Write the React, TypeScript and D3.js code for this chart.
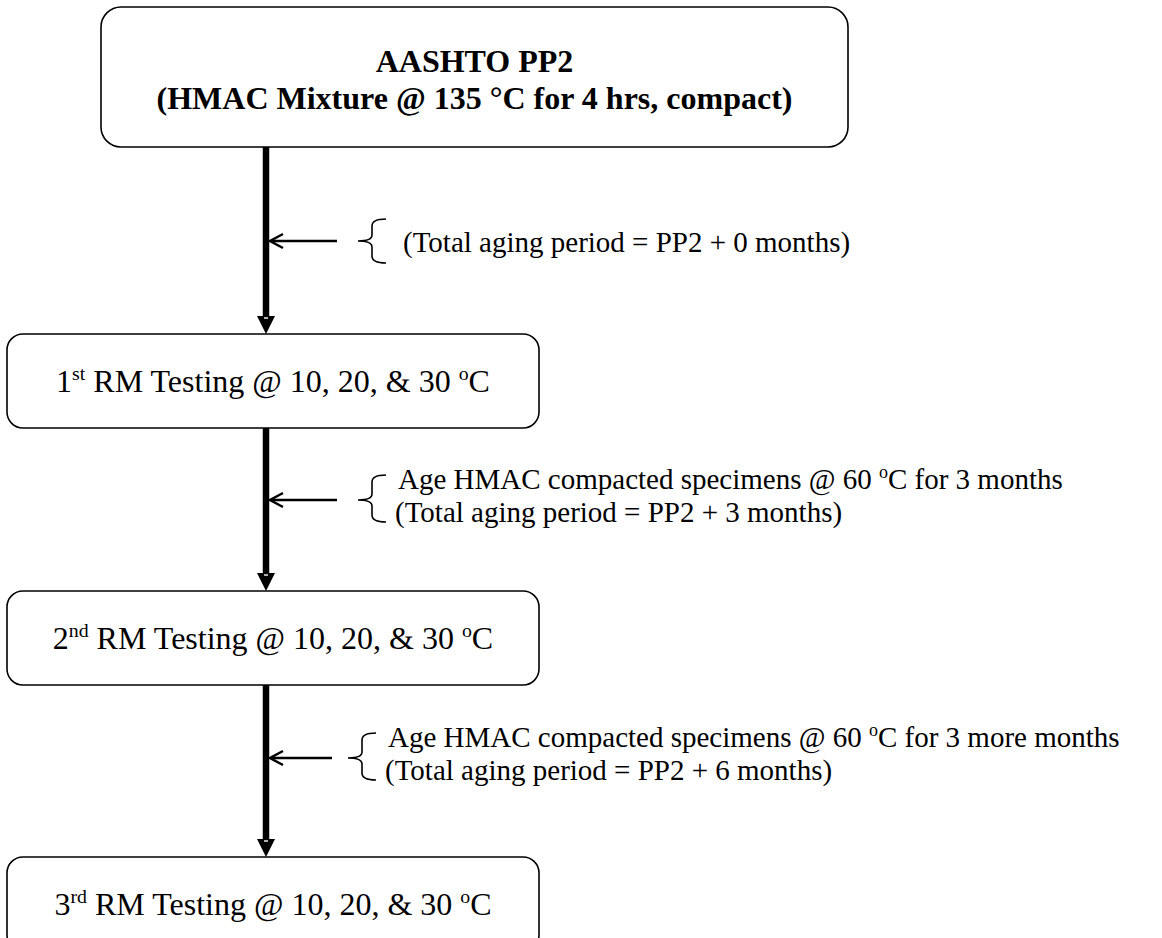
import React from "react";
import * as d3 from "d3";

// ---- content ----
const titleLines = ["AASHTO PP2", "(HMAC Mixture @ 135 °C for 4 hrs, compact)"];
const stepNumbers = ["1", "2", "3"];
const stepSuffixes = ["st", "nd", "rd"];
const stepBody = " RM Testing @ 10, 20, & 30 ";
const degreeSup = "o";
const degreeUnit = "C";

// annotation lines: each line is [before-superscript, superscript, after]
const annotations: string[][][] = [
  [["(Total aging period = PP2 + 0 months)", "", ""]],
  [
    ["Age HMAC compacted specimens @ 60 ", "o", "C for 3 months"],
    ["(Total aging period = PP2 + 3 months)", "", ""],
  ],
  [
    ["Age HMAC  compacted specimens  @ 60 ", "o", "C for 3 more months"],
    ["(Total aging period = PP2 + 6 months)", "", ""],
  ],
];

// ---- layout ----
const W = 1162;
const H = 938;
const FONT = "'Liberation Serif', 'Times New Roman', serif";

const topBox = { x0: 101, x1: 848, y0: 7, y1: 147, r: 20 };
const stepBox = { x0: 7, x1: 539, h: 94, r: 16 };
const lineX = 266;

// vertical position scale for the steps (index -> top of box)
const stepTop = d3.scaleOrdinal<number, number>().domain([0, 1, 2]).range([334, 591, 857]);
// horizontal arrows (index -> y)
const arrowY = d3.scaleOrdinal<number, number>().domain([0, 1, 2]).range([241, 500, 758]);
const braceShift = [0, 0, -10];

function bracePath(xTip: number, xRight: number, yTop: number, yMid: number, yBot: number) {
  const xm = (xTip + xRight) / 2;
  const p = d3.path();
  p.moveTo(xRight, yTop);
  p.quadraticCurveTo(xm, yTop, xm, yTop + 7);
  p.lineTo(xm, yMid - 6);
  p.quadraticCurveTo(xm, yMid, xTip, yMid);
  p.quadraticCurveTo(xm, yMid, xm, yMid + 6);
  p.lineTo(xm, yBot - 7);
  p.quadraticCurveTo(xm, yBot, xRight, yBot);
  return p.toString();
}

function VArrow({ y0, y1 }: { y0: number; y1: number }) {
  const headH = 18;
  const headW = 9;
  return (
    <g>
      <line x1={lineX} x2={lineX} y1={y0} y2={y1 - headH + 1} stroke="#000" strokeWidth={6.5} />
      <path
        d={`M${lineX - headW},${y1 - headH} L${lineX + headW},${y1 - headH} L${lineX},${y1} Z`}
        fill="#000"
      />
      <line
        x1={lineX - 2}
        x2={lineX + 2}
        y1={y1 - headH + 2}
        y2={y1 - headH + 2}
        stroke="#fff"
        strokeWidth={1.4}
      />
    </g>
  );
}

export default function App() {
  const boxFont = 32;
  const annFont = 29;
  return (
    <svg width={W} height={H} style={{ display: "block", position: "absolute", left: 0, top: 0 }}>
      <rect width={W} height={H} fill="#fff" />
      {/* title box */}
      <rect
        x={topBox.x0}
        y={topBox.y0}
        width={topBox.x1 - topBox.x0}
        height={topBox.y1 - topBox.y0}
        rx={topBox.r}
        fill="#fff"
        stroke="#000"
        strokeWidth={1.6}
      />
      {titleLines.map((t, i) => (
        <text
          key={i}
          x={(topBox.x0 + topBox.x1) / 2}
          y={72 + i * 37}
          textAnchor="middle"
          fontFamily={FONT}
          fontWeight="bold"
          fontSize={boxFont}
        >
          {t}
        </text>
      ))}

      {/* vertical arrows */}
      {stepNumbers.map((_, i) => (
        <VArrow
          key={"va" + i}
          y0={i === 0 ? topBox.y1 : stepTop(i - 1) + stepBox.h}
          y1={stepTop(i)}
        />
      ))}

      {/* step boxes */}
      {stepNumbers.map((n, i) => {
        const y = stepTop(i);
        return (
          <g key={"box" + i}>
            <rect
              x={stepBox.x0}
              y={y}
              width={stepBox.x1 - stepBox.x0}
              height={stepBox.h}
              rx={stepBox.r}
              fill="#fff"
              stroke="#000"
              strokeWidth={1.6}
            />
            <text
              x={(stepBox.x0 + stepBox.x1) / 2}
              y={y + stepBox.h / 2 + 11}
              textAnchor="middle"
              fontFamily={FONT}
              fontSize={boxFont}
            >
              {n}
              <tspan fontSize={boxFont * 0.62} dy={-12}>
                {stepSuffixes[i]}
              </tspan>
              <tspan dy={12}>{stepBody}</tspan>
              <tspan fontSize={boxFont * 0.62} dy={-12}>
                {degreeSup}
              </tspan>
              <tspan dy={12}>{degreeUnit}</tspan>
            </text>
          </g>
        );
      })}

      {/* horizontal arrows, braces and annotations */}
      {annotations.map((lines, i) => {
        const y = arrowY(i);
        const s = braceShift[i];
        const x1 = 337 + s / 2;
        const tip = 270;
        const single = lines.length === 1;
        const yTop = single ? y - 22 : y - 25;
        const yBot = y + 22;
        return (
          <g key={"ann" + i}>
            <line x1={x1} x2={tip + 1} y1={y} y2={y} stroke="#000" strokeWidth={2.5} />
            <path
              d={`M${tip + 13},${y - 7} L${tip},${y} L${tip + 13},${y + 7}`}
              fill="none"
              stroke="#000"
              strokeWidth={2.5}
            />
            <path
              d={bracePath(358 + s, 386 + s, yTop, y, yBot)}
              fill="none"
              stroke="#000"
              strokeWidth={1.6}
            />
            {lines.map((ln, j) => {
              const ty = single ? y + 11 : j === 0 ? y - 11 : y + 22;
              const tx = single ? 403 : j === 0 ? 398 + s : 395 + s;
              return (
                <text key={j} x={tx} y={ty} fontFamily={FONT} fontSize={annFont}>
                  {ln[0]}
                  {ln[1] ? (
                    <>
                      <tspan fontSize={annFont * 0.62} dy={-11}>
                        {ln[1]}
                      </tspan>
                      <tspan dy={11}>{ln[2]}</tspan>
                    </>
                  ) : null}
                </text>
              );
            })}
          </g>
        );
      })}
    </svg>
  );
}
